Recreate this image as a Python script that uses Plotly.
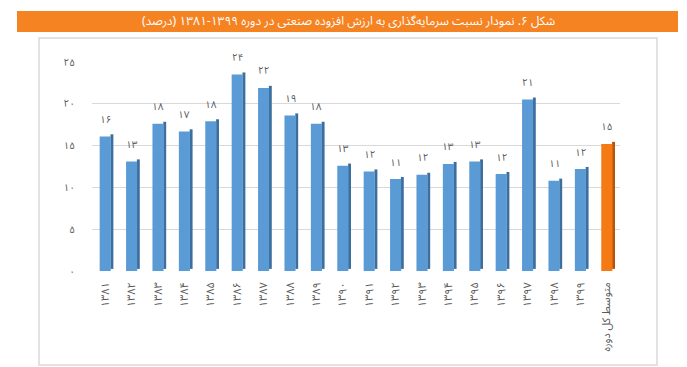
import plotly.graph_objects as go

categories = ["۱۳۸۱", "۱۳۸۲", "۱۳۸۳", "۱۳۸۴", "۱۳۸۵", "۱۳۸۶", "۱۳۸۷", "۱۳۸۸", "۱۳۸۹", "۱۳۹۰",
              "۱۳۹۱", "۱۳۹۲", "۱۳۹۳", "۱۳۹۴", "۱۳۹۵", "۱۳۹۶", "۱۳۹۷", "۱۳۹۸", "۱۳۹۹", "متوسط کل دوره"]
values = [16.1, 13.1, 17.6, 16.7, 17.9, 23.5, 21.9, 18.6, 17.6, 12.6,
          11.9, 11.0, 11.5, 12.8, 13.1, 11.6, 20.5, 10.8, 12.2, 15.2]
value_labels = ["۱۶", "۱۳", "۱۸", "۱۷", "۱۸", "۲۴", "۲۲", "۱۹", "۱۸", "۱۳",
                "۱۲", "۱۱", "۱۲", "۱۳", "۱۳", "۱۲", "۲۱", "۱۱", "۱۲", "۱۵"]
y_tick_vals = [0, 5, 10, 15, 20, 25]
y_tick_text = ["۰", "۵", "۱۰", "۱۵", "۲۰", "۲۵"]
title_text = "شکل ۶. نمودار نسبت سرمایه‌گذاری به ارزش افزوده صنعتی در دوره ۱۳۹۹-۱۳۸۱ (درصد)\u200f"

n = len(categories)
front_colors = ["#5b9bd5"] * (n - 1) + ["#f57a14"]
side_colors = ["#3d6f9e"] * (n - 1) + ["#b95409"]

FONT = "Noto Sans Arabic, Noto Naskh Arabic, DejaVu Sans"

fig = go.Figure()
fig.add_trace(go.Bar(
    x=categories, y=values, base=[0.25] * n,
    offset=0.2, width=0.11, marker=dict(color=side_colors, line=dict(width=0)),
    hoverinfo="skip", showlegend=False))
fig.add_trace(go.Bar(
    x=categories, y=values, offset=-0.21, width=0.42,
    marker=dict(color=front_colors, line=dict(width=0)), showlegend=False))

for c, v, lab in zip(categories, values, value_labels):
    fig.add_annotation(x=c, y=v, text=lab, showarrow=False, yshift=17,
                       font=dict(family=FONT, size=10, color="#595959"))

fig.update_layout(
    width=687, height=367,
    margin=dict(l=92, r=67, t=62, b=96),
    paper_bgcolor="white", plot_bgcolor="white",
    barmode="overlay",
    font=dict(family=FONT, size=10, color="#595959"),
    shapes=[
        dict(type="rect", xref="paper", yref="paper",
             x0=-53 / 528, x1=(657 - 92) / 528, y0=(271 - 365) / 209, y1=(271 - 38) / 209,
             line=dict(color="#d9d9d9", width=1.5), fillcolor="rgba(0,0,0,0)", layer="below"),
        dict(type="rect", xref="paper", yref="paper",
             x0=(17 - 92) / 528, x1=(678 - 92) / 528, y0=(271 - 32) / 209, y1=(271 - 11) / 209,
             line=dict(width=0), fillcolor="#f58322", layer="below"),
    ],
    annotations=list(fig.layout.annotations) + [
        dict(xref="paper", yref="paper", x=(348 - 92) / 528, y=(271 - 21.5) / 209,
             text=title_text, showarrow=False, xanchor="center", yanchor="middle",
             font=dict(family=FONT, size=12, color="white"))
    ],
)
fig.update_xaxes(type="category", showgrid=False, showline=False, ticks="",
                 tickangle=-90, ticklabelstandoff=8,
                 tickfont=dict(family=FONT, size=11, color="#595959"))
fig.update_yaxes(range=[0, 25], tickvals=y_tick_vals, ticktext=y_tick_text,
                 showgrid=True, gridcolor="#d9d9d9", gridwidth=1, zeroline=False,
                 showline=False, ticks="", ticklabelstandoff=16,
                 tickfont=dict(family=FONT, size=10, color="#595959"))

fig.write_html("out.html", config={"displayModeBar": False},
               post_script="document.body.style.margin='0px';")
